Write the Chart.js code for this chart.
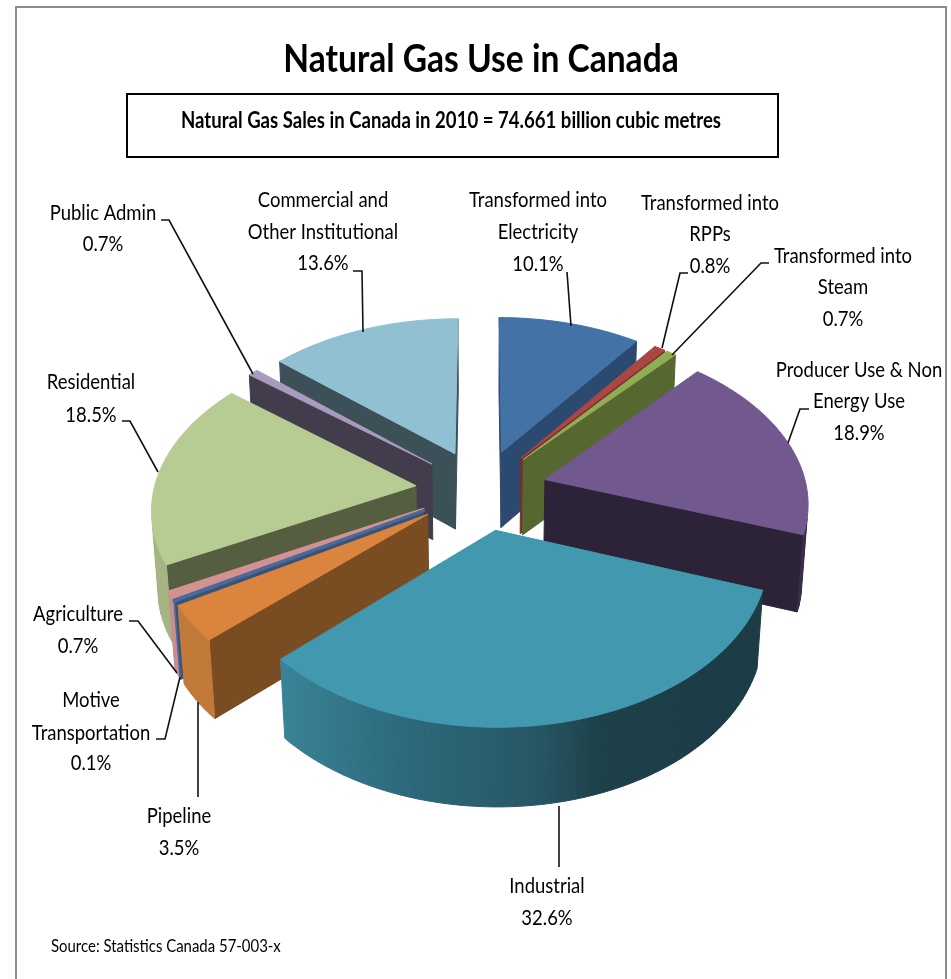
<!DOCTYPE html>
<html>
<head>
<meta charset="utf-8">
<title>Natural Gas Use in Canada</title>
<script src="https://cdn.jsdelivr.net/npm/chart.js@4/dist/chart.umd.min.js"></script>
<style>
  html, body { margin: 0; padding: 0; background: #fff; }
  canvas { display: block; }
</style>
</head>
<body>
<canvas id="gasUse" width="951" height="979"></canvas>
<script>
const categories = [
  ['Transformed into', 'Electricity'],
  ['Transformed into', 'RPPs'],
  ['Transformed into', 'Steam'],
  ['Producer Use & Non', 'Energy Use'],
  ['Industrial'],
  ['Pipeline'],
  ['Motive', 'Transportation'],
  ['Agriculture'],
  ['Residential'],
  ['Public Admin'],
  ['Commercial and', 'Other Institutional']
];
const shares = [10.1, 0.8, 0.7, 18.9, 32.6, 3.5, 0.1, 0.7, 18.5, 0.7, 13.6];

const topColors = ['#4272a6', '#aa4643', '#8fae53', '#71588f', '#4198af', '#db843d', '#4a6a9c', '#d29292', '#b7cc92', '#a99bbd', '#92c0d3'];
const wallColors = ['#2c4a70', '#7a2e2c', '#56682f', '#2d2338', '#1b3b45', '#7a4c22', '#3a5274', '#8c5f5e', '#565e42', '#433c4c', '#3c5058'];
const rimColors = ['#2c4a70', '#7a2e2c', '#56682f', '#3a2d4a', null, '#c27a3a', '#4a6a9c', '#c98d8c', '#a4b583', '#433c4c', '#3c5058'];
const edgeWidths = [1, 1, 1, 1, 1, 1, 3, 3, 1, 1, 1];

// teal front wall goes from lit (left) to dark (right)
const industrialRim = [[280, '#3a8397'], [400, '#2d6a7c'], [540, '#265664'], [600, '#1d4049'], [770, '#1b3b45']];

// camera for the tilted pie
const sinTilt = 0.6127;
const cosTilt = 0.79;
const cameraDist = 1630;
const pieDepth = 100;
// walls lean in less sideways than the true perspective gives
const wallLean = 0.5;

// label blocks: centre x, baseline of each line; leader runs from the slice to the label
const labelPlaces = [
  { x: 538, ys: [207, 239, 271], leader: [[567, 272]], anchor: [571, 326] },
  { x: 710, ys: [210, 241, 273], leader: [[680, 273], [688, 273]], anchor: [662, 348] },
  { x: 843, ys: [263, 294, 326], leader: [[761, 263], [769, 263]], anchor: [672, 355] },
  { x: 859, ys: [377, 408, 440], leader: [[800, 409], [809, 409]], anchor: [788, 443] },
  { x: 547, ys: [893, 925], leader: [[559, 867]], anchor: [559, 806] },
  { x: 179, ys: [823, 855], leader: [[198, 797]], anchor: [198, 702] },
  { x: 91, ys: [707, 740, 770], leader: [[165, 739], [156, 739]], anchor: [180, 677] },
  { x: 78, ys: [621, 653], leader: [[138, 621], [129, 621]], anchor: [177, 673] },
  { x: 91, ys: [389, 422], leader: [[130, 421], [122, 421]], anchor: [158, 472] },
  { x: 103, ys: [220, 251], leader: [[169, 220], [161, 220]], anchor: [253, 374] },
  { x: 323, ys: [207, 239, 270], leader: [[362, 271], [353, 271]], anchor: [363, 332] }
];

const labelFont = '22px Lato';
const labelSqueeze = 0.84;

function squeezedText(ctx, text, x, y, font, squeeze, align) {
  ctx.font = font;
  ctx.textAlign = align || 'center';
  ctx.textBaseline = 'alphabetic';
  ctx.fillStyle = '#000';
  ctx.fillText(text, x, y, ctx.measureText(text).width * squeeze);
}

function fillPoly(ctx, pts, fill, edge) {
  ctx.beginPath();
  pts.forEach((p, i) => (i ? ctx.lineTo(p[0], p[1]) : ctx.moveTo(p[0], p[1])));
  ctx.closePath();
  ctx.fillStyle = fill;
  ctx.fill();
  ctx.strokeStyle = fill;
  ctx.lineWidth = edge || 1;
  ctx.lineJoin = 'round';
  ctx.stroke();
}

const pie3d = {
  id: 'pie3d',
  beforeDraw(chart) {
    const ctx = chart.ctx;
    ctx.save();
    ctx.fillStyle = '#fff';
    ctx.fillRect(0, 0, chart.width, chart.height);
    // chart frame, no bottom edge in the shot
    ctx.strokeStyle = '#8c8c8c';
    ctx.lineWidth = 2;
    ctx.beginPath();
    ctx.moveTo(16, 979);
    ctx.lineTo(16, 7);
    ctx.lineTo(946, 7);
    ctx.lineTo(946, 979);
    ctx.stroke();
    ctx.restore();
  },
  // replaces the flat arcs, angles and radius still come from the arc elements
  beforeDatasetsDraw(chart) {
    const ctx = chart.ctx;
    const arcs = chart.getDatasetMeta(0).data;

    const project = (arc, x, y, z) => {
      const v = -y;
      const depth = cameraDist + v * cosTilt - z * sinTilt;
      const depthX = cameraDist + v * cosTilt - z * sinTilt * wallLean;
      return [
        arc.x + cameraDist * x / depthX,
        arc.y - cameraDist * (v * sinTilt + z * cosTilt) / depth
      ];
    };

    const order = arcs.map((arc, i) => {
      const mid = (arc.startAngle + arc.endAngle) / 2;
      return { arc, i, ox: arc.options.offset * Math.cos(mid), oy: arc.options.offset * Math.sin(mid) };
    }).sort((a, b) => a.oy - b.oy);

    ctx.save();
    order.forEach(({ arc, i, ox, oy }) => {
      const R = arc.outerRadius;
      const a0 = arc.startAngle;
      const a1 = arc.endAngle;
      const steps = Math.max(1, Math.ceil((a1 - a0) / (Math.PI / 90)));
      const rim = [];
      for (let s = 0; s <= steps; s++) {
        const a = a0 + (a1 - a0) * s / steps;
        rim.push({ a, x: ox + R * Math.cos(a), y: oy + R * Math.sin(a) });
      }
      const camY = cameraDist * cosTilt;
      const facing = (nx, ny, x, y) => nx * (0 - x) + ny * (camY - y) > 0;
      const up = (x, y) => project(arc, x, y, 0);
      const down = (x, y) => project(arc, x, y, -pieDepth);
      const first = rim[0];
      const last = rim[rim.length - 1];

      // radial faces
      if (facing(Math.sin(a0), -Math.cos(a0), first.x, first.y)) {
        fillPoly(ctx, [up(ox, oy), up(first.x, first.y), down(first.x, first.y), down(ox, oy)], wallColors[i]);
      }
      if (facing(-Math.sin(a1), Math.cos(a1), last.x, last.y)) {
        fillPoly(ctx, [up(ox, oy), up(last.x, last.y), down(last.x, last.y), down(ox, oy)], wallColors[i]);
      }

      // outer curved face
      let rimFill = rimColors[i];
      if (!rimFill) {
        rimFill = ctx.createLinearGradient(280, 0, 770, 0);
        industrialRim.forEach(([px, c]) => rimFill.addColorStop((px - 280) / 490, c));
      }
      for (let s = 0; s < rim.length - 1; s++) {
        const p = rim[s];
        const q = rim[s + 1];
        const am = (p.a + q.a) / 2;
        if (!facing(Math.cos(am), Math.sin(am), (p.x + q.x) / 2, (p.y + q.y) / 2)) continue;
        fillPoly(ctx, [up(p.x, p.y), up(q.x, q.y), down(q.x, q.y), down(p.x, p.y)], rimFill);
      }

      // top
      const topPts = [up(ox, oy)].concat(rim.map(p => up(p.x, p.y)));
      fillPoly(ctx, topPts, topColors[i], edgeWidths[i]);
    });
    ctx.restore();
    return false;
  },
  afterDraw(chart) {
    const ctx = chart.ctx;
    ctx.save();
    squeezedText(ctx, 'Natural Gas Use in Canada', 481, 72, 'bold 39px Lato', 0.86);

    ctx.strokeStyle = '#000';
    ctx.lineWidth = 2;
    ctx.strokeRect(127, 94, 651, 63);
    squeezedText(ctx, 'Natural Gas Sales in Canada in 2010 = 74.661 billion cubic metres', 451, 128, 'bold 22px Lato', 0.845);

    categories.forEach((lines, i) => {
      const place = labelPlaces[i];
      const text = lines.concat(shares[i].toFixed(1) + '%');
      text.forEach((t, n) => squeezedText(ctx, t, place.x, place.ys[n], labelFont, labelSqueeze));

      ctx.strokeStyle = '#111';
      ctx.lineWidth = 1.6;
      ctx.beginPath();
      ctx.moveTo(place.anchor[0], place.anchor[1]);
      place.leader.forEach(p => ctx.lineTo(p[0], p[1]));
      ctx.stroke();
    });

    squeezedText(ctx, 'Source: Statistics Canada 57-003-x', 51, 952, '18px Lato', 0.83, 'left');
    ctx.restore();
  }
};

new Chart(document.getElementById('gasUse'), {
  type: 'pie',
  data: {
    labels: categories.map(c => c.join(' ')),
    datasets: [{
      data: shares,
      backgroundColor: topColors,
      borderWidth: 0,
      offset: 66
    }]
  },
  options: {
    responsive: false,
    devicePixelRatio: 1,
    animation: false,
    radius: 262,
    layout: { padding: { left: 12 } },
    events: [],
    plugins: {
      legend: { display: false },
      tooltip: { enabled: false }
    }
  },
  plugins: [pie3d]
});
</script>
</body>
</html>
